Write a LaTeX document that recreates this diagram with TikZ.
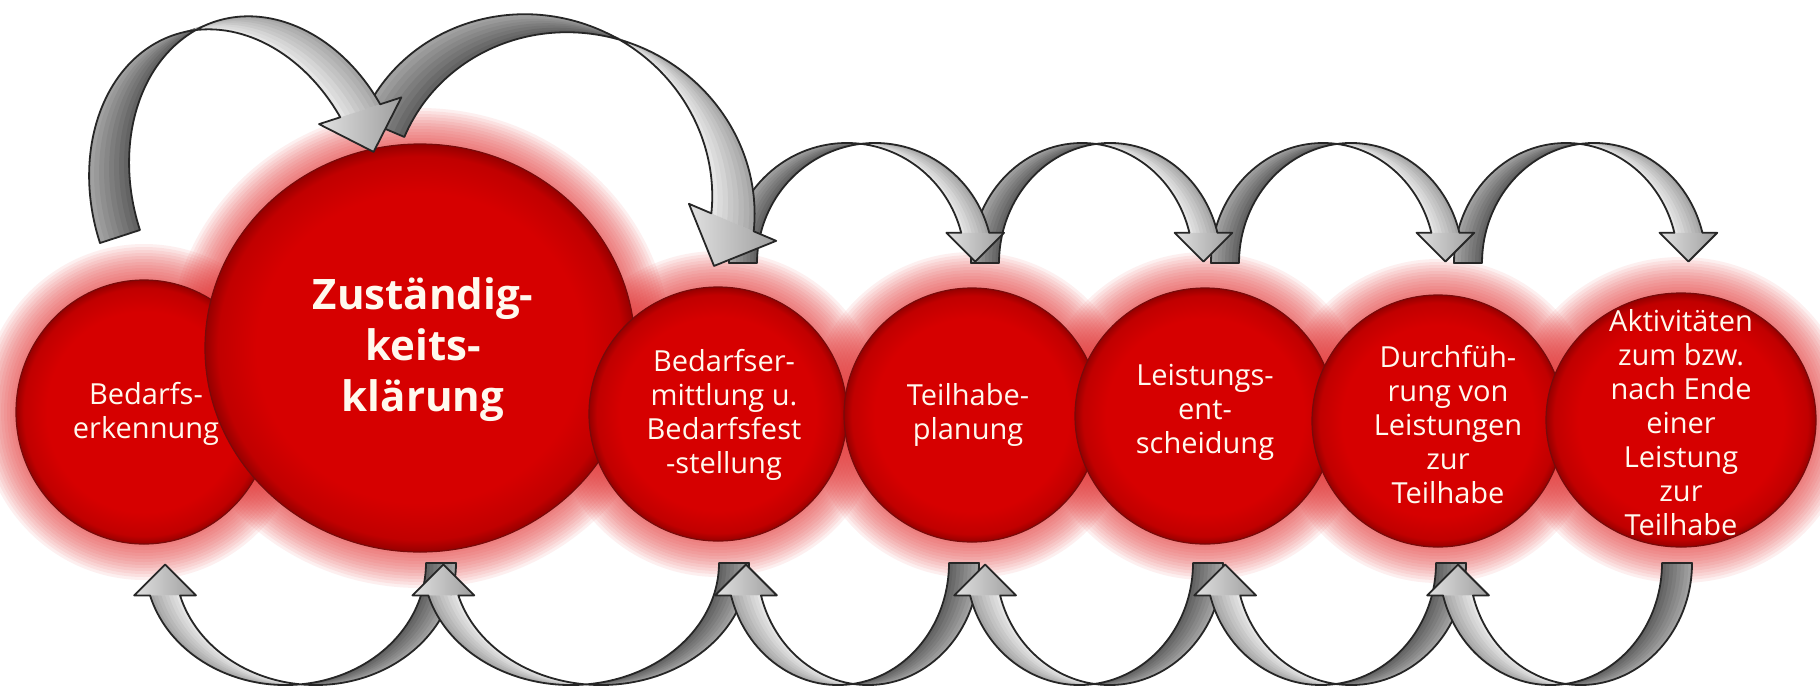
\documentclass[tikz,border=0pt]{standalone}
\usepackage{fontspec}
\setmainfont{Open Sans}
\usetikzlibrary{shapes.geometric}
\definecolor{ballred}{RGB}{214,0,0}
\colorlet{ballredA}{ballred!90!black}
\colorlet{ballredB}{ballred!70!black}
\definecolor{ballrim}{RGB}{120,10,10}
\definecolor{txtc}{RGB}{255,249,238}
\definecolor{glowc}{RGB}{230,50,50}
\pgfdeclareradialshading{redball}{\pgfpointorigin}{color(0bp)=(ballred); color(19bp)=(ballred); color(23.5bp)=(ballredA); color(25bp)=(ballredB); color(50bp)=(ballredB)}

% #1,#2 origin (outer tail corner), #3 rotation, #4 R, #5 H, #6 band width
\newcommand\CurvArrow[6]{%
\begin{scope}[shift={(#1,#2)},rotate=#3]
\pgfmathsetmacro\CAR{#4}\pgfmathsetmacro\CAH{#5}\pgfmathsetmacro\CAw{#6}
\pgfmathsetmacro\CAh{1.08*\CAw}
\pgfmathsetmacro\CAal{asin(\CAh/\CAH)}
\pgfmathsetmacro\CAxa{\CAR+\CAR*cos(\CAal)}
\pgfmathsetmacro\CAxb{\CAxa+\CAw}
\pgfmathsetmacro\CAe{0.53*\CAw}
\pgfmathsetmacro\CAtx{\CAxa+0.5*\CAw}
\pgfmathsetmacro\CAty{\CAh-1.03*\CAw}
\pgfmathsetmacro\CAc{\CAR+0.5*\CAw}
\begin{scope}
\clip (-\CAw,-\CAw) rectangle (\CAc,\CAH+\CAw);
\foreach \k in {0,...,7}{%
 \pgfmathsetmacro\CAs{\k*\CAw/8}
 \pgfmathtruncatemacro\CApc{100*(1-(160-9*\k)/255)}
 \fill[black!\CApc] (\CAs,0) arc[start angle=180,end angle=\CAal,x radius=\CAR,y radius=\CAH] -- (\CAxb,\CAh) arc[start angle=\CAal,end angle=180,x radius=\CAR,y radius=\CAH] -- cycle;
}
\end{scope}
\begin{scope}
\clip (\CAc,-\CAw) rectangle (\CAxb+2*\CAw,\CAH+\CAw);
\foreach \k in {0,...,7}{%
 \pgfmathsetmacro\CAs{\k*\CAw/8}
 \pgfmathtruncatemacro\CApc{100*(1-(228-9*\k)/255)}
 \fill[black!\CApc] (\CAs,0) arc[start angle=180,end angle=\CAal,x radius=\CAR,y radius=\CAH] -- (\CAxb,\CAh) arc[start angle=\CAal,end angle=180,x radius=\CAR,y radius=\CAH] -- cycle;
}
\end{scope}
\shade[left color=black!12, right color=black!38] (\CAxa-\CAe,\CAh) -- (\CAtx,\CAty) -- (\CAxb+\CAe,\CAh) -- cycle;
\draw[arrline] (0,0) arc[start angle=180,end angle=\CAal,x radius=\CAR,y radius=\CAH] -- (\CAxa-\CAe,\CAh) -- (\CAtx,\CAty) -- (\CAxb+\CAe,\CAh) -- (\CAxb,\CAh) arc[start angle=\CAal,end angle=180,x radius=\CAR,y radius=\CAH] -- cycle;
\end{scope}}

\tikzset{
 ball/.style={ellipse, shade, shading=redball, draw=ballrim, line width=0.6pt, inner sep=0pt},
 lbl/.style={text=txtc, align=center, inner sep=0pt, font=\fontsize{14.5}{17}\selectfont},
 biglbl/.style={text=txtc, align=center, inner sep=0pt, font=\fontsize{21}{25.5}\selectfont\bfseries},
 arrline/.style={draw=black!85, line width=0.9pt, line join=round}
}

\begin{document}
\begin{tikzpicture}[x=0.5pt,y=0.5pt]
\useasboundingbox (0,0) rectangle (1820,-687);
\fill[white] (0,0) rectangle (1820,-687);

% glows
\foreach \cx/\cy/\rx/\ry in {144/412/128/132, 420/348/215/204, 718/414/129/127, 972/415/128/127, 1205/416/130/128, 1438/421/126/126, 1681/420/135/127}{
  \foreach \k in {1,...,12}{
    \fill[glowc, opacity=0.075] (\cx,-\cy) ellipse [x radius=\rx+3*\k, y radius=\ry+3*\k];
  }
}

% circles
\node[ball, minimum width=128pt, minimum height=132pt] (c1) at (144,-412) {};
\node[ball, minimum width=215pt, minimum height=204pt] (c2) at (420,-348) {};
\node[ball, minimum width=129pt, minimum height=127pt] (c3) at (718,-414) {};
\node[ball, minimum width=128pt, minimum height=127pt] (c4) at (972,-415) {};
\node[ball, minimum width=130pt, minimum height=128pt] (c5) at (1205,-416) {};
\node[ball, minimum width=126pt, minimum height=126pt] (c6) at (1438,-421) {};
\node[ball, minimum width=135pt, minimum height=127pt] (c7) at (1681,-420) {};

% texts
\node[lbl] (t1) at (146,-414) {Bedarfs-\\erkennung};
\node[biglbl] (t2) at (423,-350) {Zuständig-\\keits-\\klärung};
\node[lbl] (t3) at (724,-415) {Bedarfser-\\mittlung u.\\Bedarfsfest\\-stellung};
\node[lbl] (t4) at (968,-415) {Teilhabe-\\planung};
\node[lbl] (t5) at (1205,-412) {Leistungs-\\ent-\\scheidung};
\node[lbl] (t6) at (1448,-425) {Durchfüh-\\rung von\\Leistungen\\zur\\Teilhabe};
\node[lbl] (t7) at (1681,-423) {Aktivitäten\\zum bzw.\\nach Ende\\einer\\Leistung\\zur\\Teilhabe};

% top arrows
\CurvArrow{1454}{-263}{0}{112}{120}{28}
\CurvArrow{1211}{-263}{0}{112}{120}{28}
\CurvArrow{971}{-263}{0}{111}{120}{28}
\CurvArrow{729}{-263}{0}{118}{120}{28}
\CurvArrow{362}{-119}{-23}{183}{175}{46}
\CurvArrow{100}{-243}{18}{136}{175}{42}

% bottom arrows
\CurvArrow{456}{-563}{180}{140.5}{122}{30}
\CurvArrow{749}{-563}{180}{148}{122}{30}
\CurvArrow{979}{-563}{180}{111}{122}{30}
\CurvArrow{1223}{-563}{180}{113.5}{122}{30}
\CurvArrow{1466}{-563}{180}{115}{122}{30}
\CurvArrow{1692}{-563}{180}{111.5}{122}{30}
\end{tikzpicture}
\end{document}
